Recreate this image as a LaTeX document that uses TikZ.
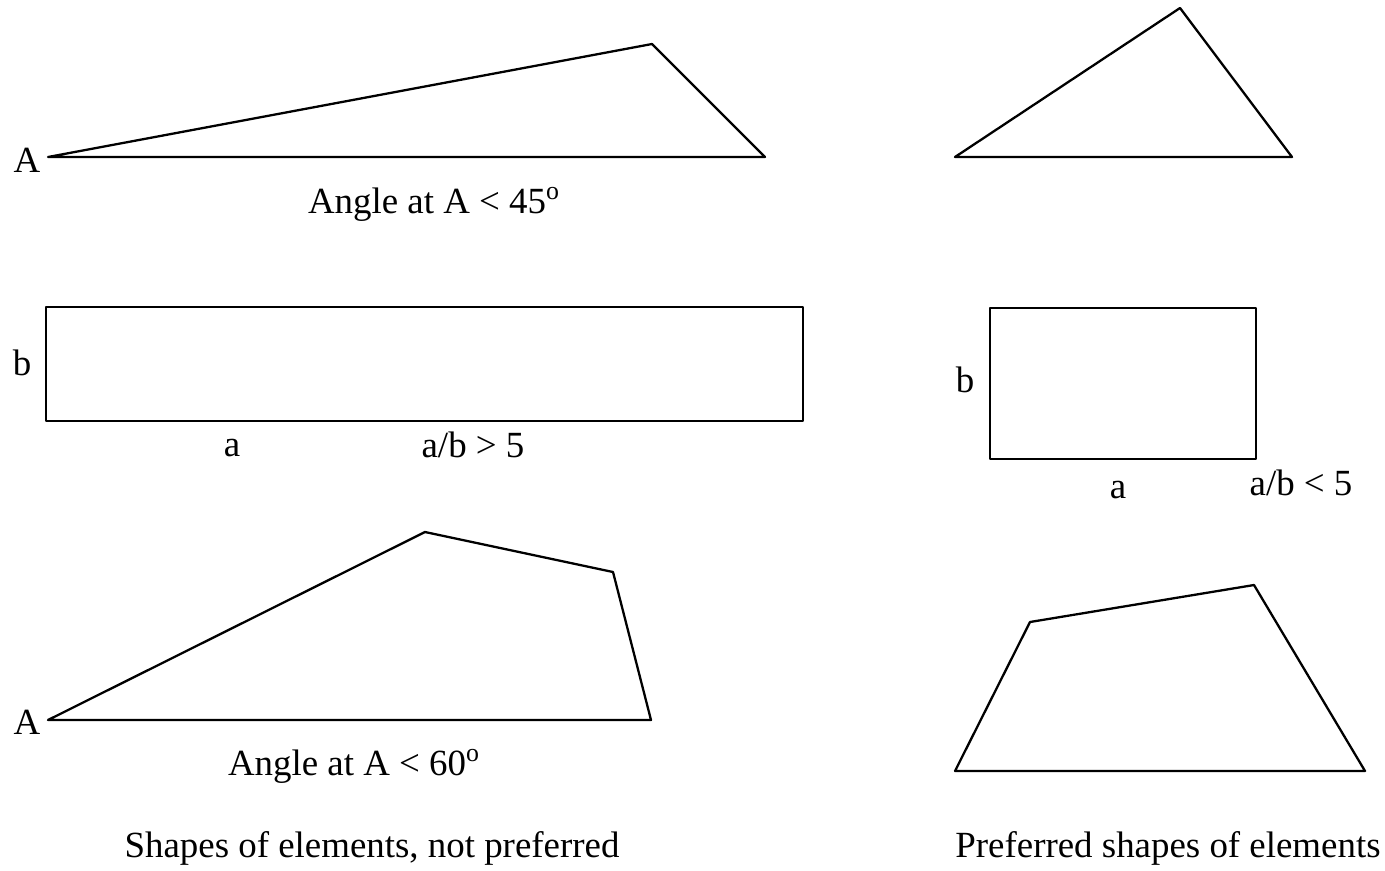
\documentclass[tikz,border=0pt]{standalone}
\usepackage{fontspec}
\setmainfont{Liberation Serif}
\usetikzlibrary{positioning}
\tikzset{
  elemline/.style={
    line width=1.3pt, line join=round, color=black
  },
  labeltext/.style={
    font=\fontsize{21}{25}\selectfont, inner sep=0pt, anchor=base
  },
}

\begin{document}
\begin{tikzpicture}[x=0.02cm, y=-0.02cm]
  \useasboundingbox (0,0) rectangle (1385,870);

  % Not preferred: slender triangle
  \draw[elemline] (48,157) -- (652,44) -- (765,157) -- cycle;
  \node[labeltext] (triA) at (27,172) {A};
  \node[labeltext] (triangle) at (434,213) {Angle at A < 45\textsuperscript{o}};

  % Preferred triangle
  \draw[elemline] (955,157) -- (1180,8) -- (1292,157) -- cycle;

  % Not preferred: long rectangle
  \draw[elemline] (46,307) rectangle (803,421);
  \node[labeltext] (longb) at (22,375) {b};
  \node[labeltext] (longa) at (232,456) {a};
  \node[labeltext] (longratio) at (473,457) {a/b > 5};

  % Preferred rectangle
  \draw[elemline] (990,308) rectangle (1256,459);
  \node[labeltext] (shortb) at (965,392) {b};
  \node[labeltext] (shorta) at (1118,498) {a};
  \node[labeltext] (shortratio) at (1301,495) {a/b < 5};

  % Not preferred: quadrilateral
  \draw[elemline] (48,720) -- (425,532) -- (613,572) -- (651,720) -- cycle;
  \node[labeltext] (quadA) at (27,734) {A};
  \node[labeltext] (quad) at (354,775) {Angle at A < 60\textsuperscript{o}};

  % Preferred quadrilateral
  \draw[elemline] (955,771) -- (1030,622) -- (1254,585) -- (1365,771) -- cycle;

  % Captions
  \node[labeltext] (notpref) at (372,857) {Shapes of elements, not preferred};
  \node[labeltext] (pref) at (1168,857) {Preferred shapes of elements};
\end{tikzpicture}
\end{document}
